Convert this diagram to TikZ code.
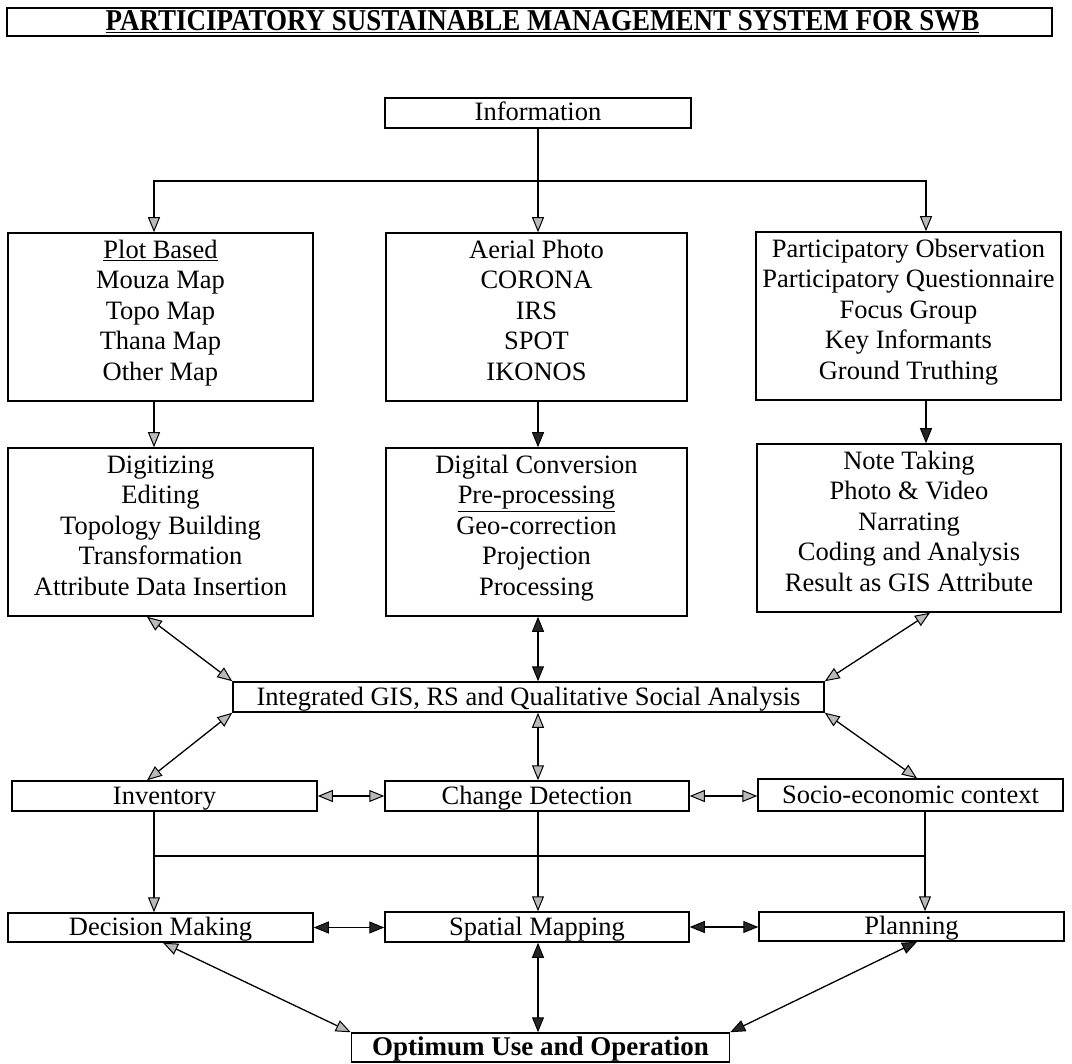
\documentclass[tikz,border=0pt]{standalone}
\usepackage{graphicx}
\usepackage{fontspec}
\setmainfont{Liberation Serif}
\usetikzlibrary{arrows.meta}
\newcommand\diafont{\fontsize{26.5}{30.5}\selectfont}
% multi-line box content: fixed size, text hung from the top
\newcommand\stack[3]{\parbox[c][#2pt][t]{#1pt}{\centering\rule{0pt}{25.5pt}#3}}
\begin{document}
\begin{tikzpicture}[x=1pt,y=-1pt,
  box/.style={draw, line width=1.5pt, inner sep=0pt, font=\diafont},
  onebox/.style={box, text height=20pt, text depth=4pt, minimum height=#1},
  onebox/.default=30pt,
  conn/.style={line width=1.3pt},
  lighttip/.tip={Triangle[length=15pt,width=12pt,fill=gray!55,line width=1pt]},
  darktip/.tip={Triangle[length=15pt,width=12pt,fill=black!85,line width=1pt]},
  one/.style={conn,-lighttip},
  onedk/.style={conn,-darktip},
  two/.style={conn,lighttip-lighttip},
  twodk/.style={conn,darktip-darktip},
]
\useasboundingbox (0,0) rectangle (1072,1064);

% title
\node[box, minimum width=1045pt, minimum height=28pt, text height=22pt, text depth=5pt,
      font=\fontsize{27}{30}\selectfont\bfseries] (title) at (529.5,22)
  {\hspace*{26pt}\scalebox{1}[1.12]{\underline{PARTICIPATORY SUSTAINABLE MANAGEMENT SYSTEM FOR SWB}}};

% top source
\node[onebox=30pt, minimum width=306pt] (info) at (538,113) {Information};

% first row of sources
\node[box] (plot) at (160.5,317) {\stack{305}{168}{\underline{Plot Based}\\Mouza Map\\Topo Map\\Thana Map\\Other Map}};
\node[box] (aerial) at (536.5,317) {\stack{301}{168}{Aerial Photo\\CORONA\\IRS\\SPOT\\IKONOS}};
\node[box] (partic) at (908.5,316) {\stack{305}{168}{Participatory Observation\\Participatory Questionnaire\\Focus Group\\Key Informants\\Ground Truthing}};

% second row of processing steps
\node[box] (digit) at (160.5,532) {\stack{305}{168}{Digitizing\\Editing\\Topology Building\\Transformation\\Attribute Data Insertion}};
\node[box] (digconv) at (536.5,532) {\stack{301}{168}{Digital Conversion\\\underline{Pre-processing}\\Geo-correction\\Projection\\Processing}};
\node[box] (note) at (909,528) {\stack{304}{168}{Note Taking\\Photo \& Video\\Narrating\\Coding and Analysis\\Result as GIS Attribute}};

% integration
\node[onebox, minimum width=591pt] (integ) at (528.5,697) {Integrated GIS, RS and Qualitative Social Analysis};

% outputs
\node[onebox, minimum width=305pt] (inv) at (164.5,796) {Inventory};
\node[onebox, minimum width=304pt] (change) at (537,796) {Change Detection};
\node[onebox=32pt, minimum width=305pt] (socio) at (910.5,795) {Socio-economic context};

\node[onebox=29pt, minimum width=305pt] (dec) at (160.5,927.5) {Decision Making};
\node[onebox, minimum width=304pt] (spat) at (537,927) {Spatial Mapping};
\node[onebox=29pt, minimum width=305pt] (plan) at (911.5,926.5) {Planning};

\node[onebox=29pt, minimum width=378pt, font=\fontsize{27}{30}\selectfont\bfseries] (opt) at (540.5,1047.5) {Optimum Use and Operation};

% information to the three sources
\coordinate (split) at (538,181);
\draw[one] (info.south) -- (info.south |- aerial.north);
\draw[one] (split) -| ([xshift=-6.5pt]plot.north);
\draw[one] (split) -| ([xshift=17.5pt]partic.north);

% sources to processing
\draw[one] ([xshift=-6.5pt]plot.south) -- ([xshift=-6.5pt]digit.north);
\draw[onedk] ([xshift=1.5pt]aerial.south) -- ([xshift=1.5pt]digconv.north);
\draw[onedk] ([xshift=17.5pt]partic.south) -- ([xshift=17pt]note.north);

% processing to integration
\draw[two] ([xshift=-13.5pt]digit.south) -- (integ.north west);
\draw[twodk] ([xshift=1.5pt]digconv.south) -- ([xshift=9.5pt]integ.north);
\draw[two] ([xshift=21pt]note.south) -- (integ.north east);

% integration to outputs
\draw[two] (integ.south west) -- ([xshift=-17.5pt]inv.north);
\draw[two] ([xshift=9.5pt]integ.south) -- ([xshift=1pt]change.north);
\draw[two] (integ.south east) -- ([xshift=6.5pt]socio.north);

\draw[two] (inv.east) -- (change.west);
\draw[two] (change.east) -- (socio.west |- change.east);

% outputs to planning tools
\coordinate (lj) at (154,856);
\coordinate (rj) at (925,856);
\draw[one] ([xshift=-10.5pt]inv.south) -- ([xshift=-6.5pt]dec.north);
\draw[one] ([xshift=14.5pt]socio.south) -- ([xshift=13.5pt]plan.north);
\draw[conn] (lj) -- (rj);
\draw[one] ([xshift=1pt]change.south) -- ([xshift=1pt]spat.north);

\draw[twodk] (dec.east) -- (spat.west |- dec.east);
\draw[twodk] (spat.east) -- (plan.west |- spat.east);

% planning tools to final use
\draw[two] ([xshift=2.5pt]dec.south) -- (opt.north west);
\draw[twodk] ([xshift=1pt]spat.south) -- ([xshift=-2.5pt]opt.north);
\draw[twodk] ([xshift=5.5pt]plan.south) -- (opt.north east);
\end{tikzpicture}
\end{document}
